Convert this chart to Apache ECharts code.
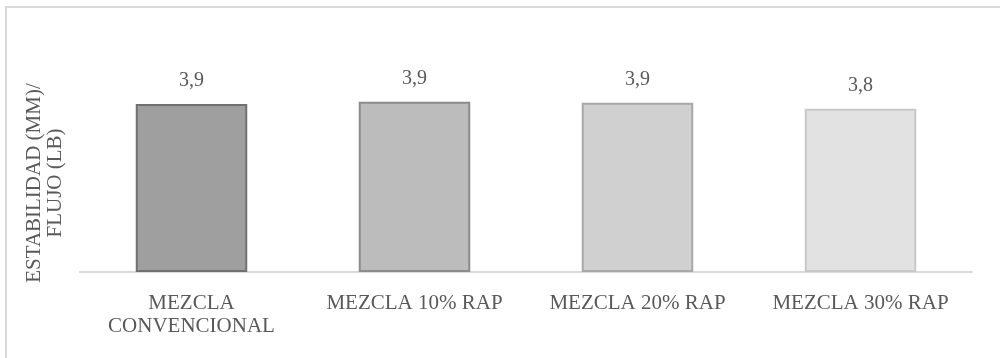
<!DOCTYPE html>
<html>
<head>
<meta charset="utf-8">
<script src="https://cdn.jsdelivr.net/npm/echarts@6/dist/echarts.min.js"></script>
<style>
html,body{margin:0;padding:0;background:#fff;}
#chart{width:1000px;height:358px;}
</style>
</head>
<body>
<div id="chart"></div>
<script>
const categories = ['MEZCLA\nCONVENCIONAL', 'MEZCLA 10% RAP', 'MEZCLA 20% RAP', 'MEZCLA 30% RAP'];
const values = [3.87, 3.92, 3.90, 3.76];
const valueLabels = ['3,9', '3,9', '3,9', '3,8'];
const yAxisTitle = 'ESTABILIDAD (MM)/\nFLUJO (LB)';

const fills = ['#9f9f9f', '#bcbcbc', '#d0d0d0', '#e2e2e2'];
const borders = ['#707070', '#8b8b8b', '#a8a8a8', '#c8c8c8'];
const FONT = '"Liberation Serif", "Times New Roman", serif';

const chart = echarts.init(document.getElementById('chart'), null, {renderer: 'canvas'});
chart.setOption({
  animation: false,
  backgroundColor: '#ffffff',
  grid: {left: 80, right: 28, top: 55, bottom: 86},
  xAxis: {
    type: 'category',
    data: categories,
    axisLine: {lineStyle: {color: '#d9d9d9', width: 2}},
    axisTick: {show: false},
    axisLabel: {color: '#595959', fontFamily: FONT, fontSize: 21, lineHeight: 23, margin: 20, interval: 0}
  },
  yAxis: {
    type: 'value', min: 0, max: 5,
    show: false,
    splitLine: {show: false}
  },
  series: [{
    type: 'bar',
    barWidth: '50%',
    data: values.map((v, i) => ({
      value: v,
      itemStyle: {color: fills[i], borderColor: borders[i], borderWidth: 2}
    })),
    label: {
      show: true, position: 'top', distance: 13,
      color: '#595959', fontFamily: FONT, fontSize: 20,
      formatter: p => valueLabels[p.dataIndex]
    }
  }],
  graphic: [
    {type: 'rect', shape: {x: 6, y: 7, width: 1010, height: 400}, style: {fill: 'none', stroke: '#d9d9d9', lineWidth: 2}, silent: true},
    {type: 'text', x: 45, y: 183, rotation: Math.PI / 2,
     style: {text: yAxisTitle, fill: '#595959', font: '21px ' + FONT, align: 'center', verticalAlign: 'middle', lineHeight: 21}}
  ]
});
</script>
</body>
</html>
